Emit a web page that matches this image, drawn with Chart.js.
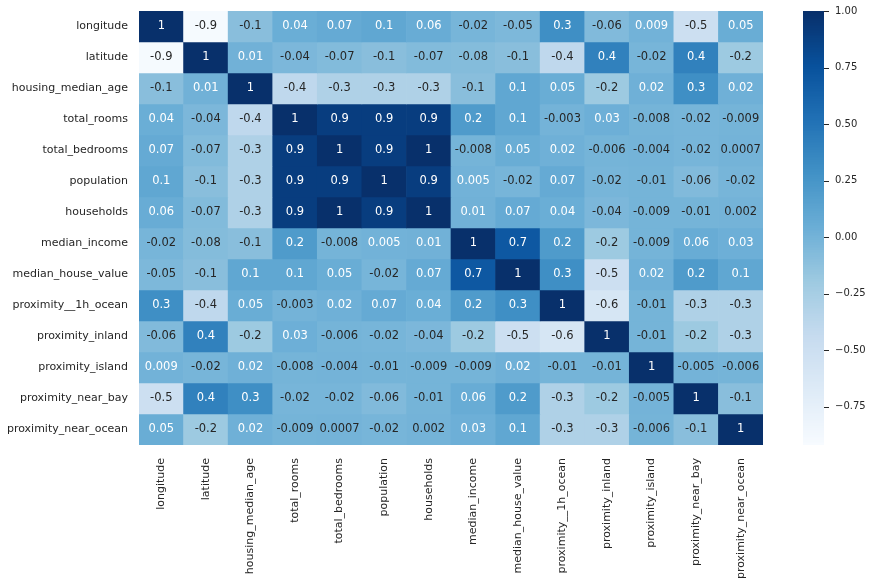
<!DOCTYPE html>
<html>
<head>
<meta charset="utf-8">
<script src="https://cdn.jsdelivr.net/npm/chart.js@4/dist/chart.umd.min.js"></script>
<style>
    html, body { margin: 0; padding: 0; background: #fff; }
    #wrap { width: 874px; height: 584px; position: relative; }
</style>
</head>
<body>
<div id="wrap"><canvas id="heat"></canvas></div>
<script>
(function () {
    'use strict';

    // feature names (rows and columns are the same)
    var features = ['longitude', 'latitude', 'housing_median_age', 'total_rooms',
        'total_bedrooms', 'population', 'households', 'median_income',
        'median_house_value', 'proximity__1h_ocean', 'proximity_inland',
        'proximity_island', 'proximity_near_bay', 'proximity_near_ocean'];

    // correlation rows, as printed in the cells
    var longitude = [1, -0.9, -0.1, 0.04, 0.07, 0.1, 0.06, -0.02, -0.05, 0.3, -0.06, 0.009, -0.5, 0.05];
    var latitude = [-0.9, 1, 0.01, -0.04, -0.07, -0.1, -0.07, -0.08, -0.1, -0.4, 0.4, -0.02, 0.4, -0.2];
    var housingMedianAge = [-0.1, 0.01, 1, -0.4, -0.3, -0.3, -0.3, -0.1, 0.1, 0.05, -0.2, 0.02, 0.3, 0.02];
    var totalRooms = [0.04, -0.04, -0.4, 1, 0.9, 0.9, 0.9, 0.2, 0.1, -0.003, 0.03, -0.008, -0.02, -0.009];
    var totalBedrooms = [0.07, -0.07, -0.3, 0.9, 1, 0.9, 1, -0.008, 0.05, 0.02, -0.006, -0.004, -0.02, 0.0007];
    var population = [0.1, -0.1, -0.3, 0.9, 0.9, 1, 0.9, 0.005, -0.02, 0.07, -0.02, -0.01, -0.06, -0.02];
    var households = [0.06, -0.07, -0.3, 0.9, 1, 0.9, 1, 0.01, 0.07, 0.04, -0.04, -0.009, -0.01, 0.002];
    var medianIncome = [-0.02, -0.08, -0.1, 0.2, -0.008, 0.005, 0.01, 1, 0.7, 0.2, -0.2, -0.009, 0.06, 0.03];
    var medianHouseValue = [-0.05, -0.1, 0.1, 0.1, 0.05, -0.02, 0.07, 0.7, 1, 0.3, -0.5, 0.02, 0.2, 0.1];
    var prox1hOcean = [0.3, -0.4, 0.05, -0.003, 0.02, 0.07, 0.04, 0.2, 0.3, 1, -0.6, -0.01, -0.3, -0.3];
    var proxInland = [-0.06, 0.4, -0.2, 0.03, -0.006, -0.02, -0.04, -0.2, -0.5, -0.6, 1, -0.01, -0.2, -0.3];
    var proxIsland = [0.009, -0.02, 0.02, -0.008, -0.004, -0.01, -0.009, -0.009, 0.02, -0.01, -0.01, 1, -0.005, -0.006];
    var proxNearBay = [-0.5, 0.4, 0.3, -0.02, -0.02, -0.06, -0.01, 0.06, 0.2, -0.3, -0.2, -0.005, 1, -0.1];
    var proxNearOcean = [0.05, -0.2, 0.02, -0.009, 0.0007, -0.02, 0.002, 0.03, 0.1, -0.3, -0.3, -0.006, -0.1, 1];

    var rows = [longitude, latitude, housingMedianAge, totalRooms, totalBedrooms,
        population, households, medianIncome, medianHouseValue, prox1hOcean,
        proxInland, proxIsland, proxNearBay, proxNearOcean];

    // colour bar range and ticks
    var vmin = -0.92;
    var vmax = 1;
    var cbTicks = [-0.75, -0.5, -0.25, 0, 0.25, 0.5, 0.75, 1];

    // matplotlib "Blues"
    var blues = [
        [247, 251, 255], [222, 235, 247], [198, 219, 239], [158, 202, 225],
        [107, 174, 214], [66, 146, 198], [33, 113, 181], [8, 81, 156], [8, 48, 107]
    ];

    var textDark = '#262626';
    var font = '"DejaVu Sans", "Liberation Sans", sans-serif';

    function rgbFor(v) {
        var t = (v - vmin) / (vmax - vmin);
        t = Math.max(0, Math.min(1, t));
        var i = Math.min(255, Math.floor(t * 256));
        t = i / 255;
        var pos = t * (blues.length - 1);
        var k = Math.min(blues.length - 2, Math.floor(pos));
        var f = pos - k;
        var a = blues[k], b = blues[k + 1];
        return [
            a[0] + (b[0] - a[0]) * f,
            a[1] + (b[1] - a[1]) * f,
            a[2] + (b[2] - a[2]) * f
        ];
    }

    function cssColor(rgb) {
        return 'rgb(' + Math.round(rgb[0]) + ',' + Math.round(rgb[1]) + ',' + Math.round(rgb[2]) + ')';
    }

    function luminance(rgb) {
        var w = [0.2126, 0.7152, 0.0722];
        var lum = 0;
        for (var i = 0; i < 3; i++) {
            var c = rgb[i] / 255;
            c = c <= 0.03928 ? c / 12.92 : Math.pow((c + 0.055) / 1.055, 2.4);
            lum += c * w[i];
        }
        return lum;
    }

    // keep axis label overhang from pushing the plot area down
    function noEdgePadding(scale) {
        scale.paddingTop = 0;
        scale.paddingBottom = 0;
    }

    // one floating bar dataset per row, all bars of a column share one slot
    var datasets = rows.map(function (row, i) {
        return {
            label: features[i],
            data: row.map(function () { return [i, i + 1]; }),
            backgroundColor: row.map(function (v) { return cssColor(rgbFor(v)); }),
            borderWidth: 0,
            borderSkipped: false,
            barPercentage: 1,
            categoryPercentage: 1
        };
    });

    var cellText = {
        id: 'cellText',
        afterDatasetsDraw: function (chart) {
            var ctx = chart.ctx;
            ctx.save();
            ctx.font = '11.5px ' + font;
            ctx.textAlign = 'center';
            ctx.textBaseline = 'middle';
            rows.forEach(function (row, i) {
                var meta = chart.getDatasetMeta(i);
                meta.data.forEach(function (bar, j) {
                    var v = row[j];
                    ctx.fillStyle = luminance(rgbFor(v)) > 0.408 ? textDark : '#ffffff';
                    ctx.fillText(String(v), bar.x, (bar.y + bar.base) / 2);
                });
            });
            ctx.restore();
        }
    };

    var colorBar = {
        id: 'colorBar',
        afterDraw: function (chart) {
            var ctx = chart.ctx;
            var cb = chart.scales.cb;
            var left = chart.chartArea.right + 40;
            var width = 21;
            ctx.save();
            for (var py = Math.round(cb.top); py < Math.round(cb.bottom); py++) {
                ctx.fillStyle = cssColor(rgbFor(cb.getValueForPixel(py + 0.5)));
                ctx.fillRect(left, py, width, 1);
            }
            ctx.strokeStyle = textDark;
            ctx.lineWidth = 1;
            cbTicks.forEach(function (t) {
                var y = Math.round(cb.getPixelForValue(t)) + 0.5;
                ctx.beginPath();
                ctx.moveTo(left + width, y);
                ctx.lineTo(left + width + 5, y);
                ctx.stroke();
            });
            ctx.restore();
        }
    };

    new Chart(document.getElementById('heat').getContext('2d'), {
        type: 'bar',
        data: { labels: features, datasets: datasets },
        plugins: [cellText, colorBar],
        options: {
            responsive: true,
            maintainAspectRatio: false,
            devicePixelRatio: 1,
            animation: false,
            layout: { padding: { top: 11, left: 0, right: 0, bottom: 0 } },
            plugins: {
                legend: { display: false },
                tooltip: { enabled: false }
            },
            scales: {
                x: {
                    stacked: true,
                    grid: { display: false, drawTicks: false },
                    border: { display: false },
                    ticks: {
                        color: textDark,
                        font: { family: font, size: 11 },
                        minRotation: 90,
                        maxRotation: 90,
                        autoSkip: false,
                        padding: 13
                    },
                    afterFit: function (scale) {
                        scale.height = 139;
                        scale.paddingLeft = 0;
                        scale.paddingRight = 0;
                    }
                },
                y: {
                    type: 'linear',
                    reverse: true,
                    min: 0,
                    max: features.length,
                    grid: { display: false, drawTicks: false },
                    border: { display: false },
                    ticks: {
                        color: textDark,
                        font: { family: font, size: 11 },
                        padding: 11,
                        callback: function (value, index) { return features[index]; }
                    },
                    afterBuildTicks: function (scale) {
                        scale.ticks = features.map(function (f, i) { return { value: i + 0.5 }; });
                    },
                    afterFit: function (scale) {
                        scale.width = 139;
                        noEdgePadding(scale);
                    }
                },
                cb: {
                    type: 'linear',
                    position: 'right',
                    min: vmin,
                    max: vmax,
                    grid: { display: false, drawTicks: false },
                    border: { display: false },
                    ticks: {
                        color: textDark,
                        font: { family: font, size: 10 },
                        padding: 72,
                        callback: function (value) {
                            return value.toFixed(2).replace('-', '\u2212');
                        }
                    },
                    afterBuildTicks: function (scale) {
                        scale.ticks = cbTicks.map(function (t) { return { value: t }; });
                    },
                    afterFit: function (scale) {
                        scale.width = 111;
                        noEdgePadding(scale);
                    }
                }
            }
        }
    });
})();
</script>
</body>
</html>
